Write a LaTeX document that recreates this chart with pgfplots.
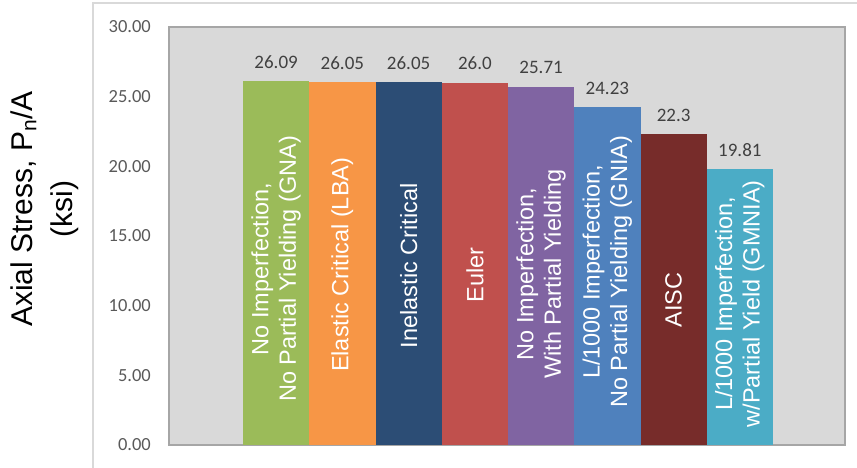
\documentclass[border=0pt]{standalone}
\usepackage{fontspec}
\setmainfont{Liberation Sans}
\newfontfamily\calibri{Carlito}
\usepackage{pgfplots}
\pgfplotsset{compat=1.18}

\definecolor{plotbg}{HTML}{D9D9D9}
\definecolor{plotframe}{HTML}{A6A6A6}
\definecolor{outerframe}{HTML}{D9D9D9}
\definecolor{ticktext}{HTML}{595959}
\definecolor{valtext}{HTML}{404040}
\definecolor{cGNA}{HTML}{9BBB59}
\definecolor{cLBA}{HTML}{F79646}
\definecolor{cInel}{HTML}{2C4D75}
\definecolor{cEuler}{HTML}{C0504D}
\definecolor{cNoImpPY}{HTML}{8064A2}
\definecolor{cGNIA}{HTML}{4F81BD}
\definecolor{cAISC}{HTML}{772C2A}
\definecolor{cGMNIA}{HTML}{4BACC6}

\pgfplotsset{
  stressbar/.style={
    ybar, bar width=1, bar shift=0pt, draw=none, fill=#1,
    point meta=explicit symbolic,
    nodes near coords,
    every node near coord/.style={
      font=\calibri\fontsize{19}{21}\selectfont, text=valtext,
      inner sep=0pt, anchor=south, yshift=12.5pt},
  },
}

\begin{document}
\begin{tikzpicture}[x=1pt,y=1pt]
\path[use as bounding box] (0,0) rectangle (857,468);
% chart area frame
\draw[outerframe, line width=1.5pt] (93,0) -- (93,465) -- (857,465);

\begin{axis}[
  at={(169pt,23pt)}, anchor=south west,
  width=676pt, height=418pt, scale only axis,
  xmin=-1.617, xmax=8.587, ymin=0, ymax=30,
  axis background/.style={fill=plotbg},
  axis line style={plotframe, line width=1.2pt},
  xtick=\empty,
  ytick={0,5,10,15,20,25,30},
  major tick length=0pt,
  yticklabel={\pgfmathprintnumber[fixed,fixed zerofill,precision=2,assume math mode=true]{\tick}},
  yticklabel style={font=\calibri\fontsize{18.5}{20}\selectfont, text=ticktext,
    inner sep=0pt, anchor=east, xshift=-18pt},
  clip=false,
]
\addplot[stressbar=cGNA]     coordinates {(0,26.09) [26.09]};
\addplot[stressbar=cLBA]     coordinates {(1,26.05) [26.05]};
\addplot[stressbar=cInel]    coordinates {(2,26.05) [26.05]};
\addplot[stressbar=cEuler]   coordinates {(3,26.0)  [26.0]};
\addplot[stressbar=cNoImpPY] coordinates {(4,25.71) [25.71]};
\addplot[stressbar=cGNIA]    coordinates {(5,24.23) [24.23]};
\addplot[stressbar=cAISC]    coordinates {(6,22.3)  [22.3]};
\addplot[stressbar=cGMNIA]   coordinates {(7,19.81) [19.81]};

% category names written inside the bars
\begin{scope}[every node/.style={rotate=90, align=center, text=white,
    inner sep=0pt, font=\fontsize{23.5}{27.5}\selectfont}]
\node at (axis cs:0,12.64) {No Imperfection,\\No Partial Yielding (GNA)};
\node at (axis cs:1,12.93) {Elastic Critical (LBA)};
\node at (axis cs:2,12.86) {Inelastic Critical};
\node at (axis cs:3,12.21) {Euler};
\node at (axis cs:4,12.28) {No Imperfection,\\With Partial Yielding};
\node at (axis cs:5,12.43) {L/1000 Imperfection,\\No Partial Yielding (GNIA)};
\node at (axis cs:6,10.42) {AISC};
\node at (axis cs:7,10.13) {L/1000 Imperfection,\\w/Partial Yield (GMNIA)};
\end{scope}
\end{axis}

% y-axis title
\node[rotate=90, align=center, inner sep=0pt,
      font=\fontsize{30}{40}\selectfont] at (45,259)
  {Axial Stress, P\textsubscript{n}/A\\(ksi)};
\end{tikzpicture}
\end{document}
